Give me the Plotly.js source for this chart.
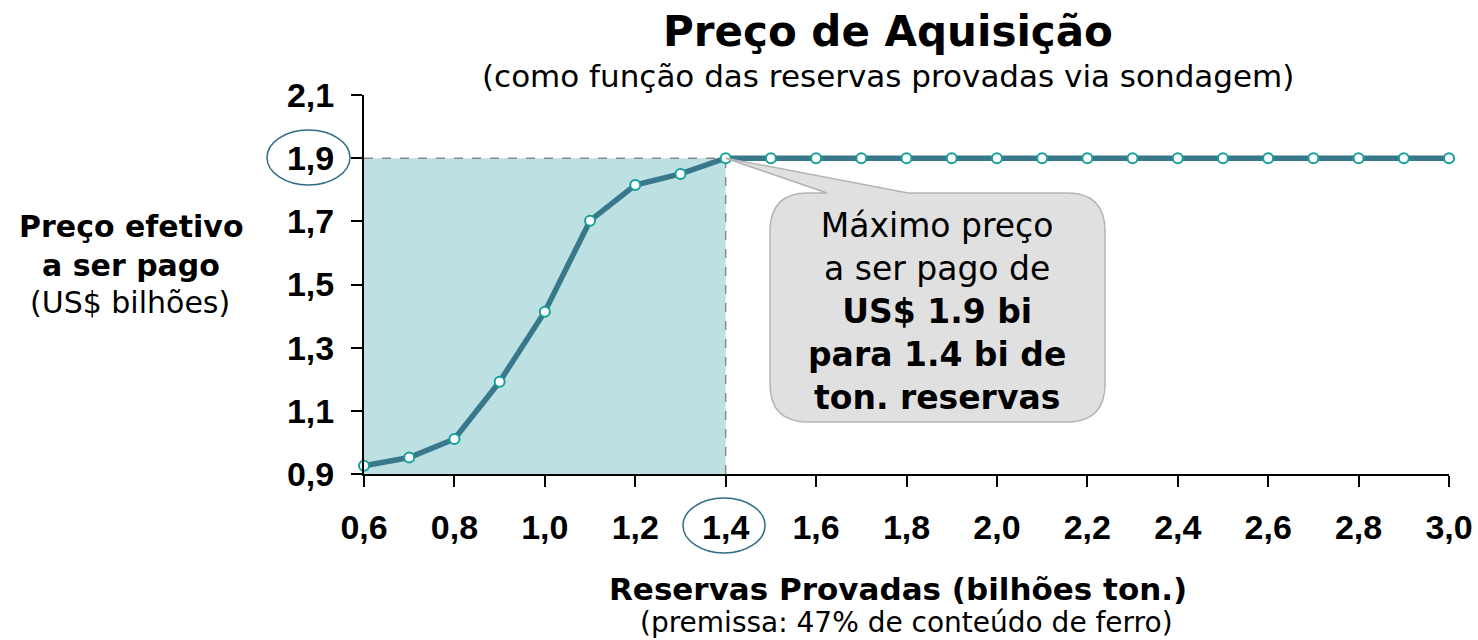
<!DOCTYPE html>
<html>
<head>
<meta charset="utf-8">
<script src="https://cdn.plot.ly/plotly-3.0.1.min.js"></script>
<style>
  body { margin: 0; background: #fff; }
  #chart { width: 1478px; height: 640px; }
</style>
</head>
<body>
<div id="chart"></div>
<script>
// reservas provadas (bilhoes ton.) and preco efetivo (US$ bilhoes)
var reservas = [0.6, 0.7, 0.8, 0.9, 1.0, 1.1, 1.2, 1.3, 1.4, 1.5, 1.6, 1.7, 1.8, 1.9, 2.0,
                2.1, 2.2, 2.3, 2.4, 2.5, 2.6, 2.7, 2.8, 2.9, 3.0];
var preco = [0.926, 0.952, 1.011, 1.192, 1.414, 1.702, 1.815, 1.85, 1.9, 1.9, 1.9, 1.9, 1.9, 1.9, 1.9,
             1.9, 1.9, 1.9, 1.9, 1.9, 1.9, 1.9, 1.9, 1.9, 1.9];

var xTicks = [0.6, 0.8, 1.0, 1.2, 1.4, 1.6, 1.8, 2.0, 2.2, 2.4, 2.6, 2.8, 3.0];
var yTicks = [0.9, 1.1, 1.3, 1.5, 1.7, 1.9, 2.1];

// the chosen point
var reservaMax = 1.4;
var precoMax = 1.9;

var xRange = [0.6, 3.0];
var yRange = [0.9, 2.1];

// plot area in pixels
var W = 1478, H = 640;
var mL = 364, mR = 29, mT = 95, mB = 166;
var pw = W - mL - mR, ph = H - mT - mB;

// pixel -> paper helpers for the decorations
function px(x) { return (x - mL) / pw; }
function py(y) { return (H - mB - y) / ph; }

var font = "Verdana, 'DejaVu Sans', sans-serif";
var tickFont = "Arial, 'Liberation Sans', sans-serif";

var trace = {
  x: reservas,
  y: preco,
  type: "scatter",
  mode: "lines+markers",
  line: {color: "#38788a", width: 5.5},
  marker: {size: 10, color: "#ffffff", line: {color: "#16a09a", width: 2}},
  cliponaxis: false,
  hoverinfo: "skip"
};

// callout bubble built in pixels
function bubble(l, t, r, b, rad, p1, p2, tx, ty) {
  var d = "M" + px(l + rad) + "," + py(t) +
    " L" + px(p1) + "," + py(t) +
    " L" + tx + "," + ty +
    " L" + px(p2) + "," + py(t) +
    " L" + px(r - rad) + "," + py(t) +
    " Q" + px(r) + "," + py(t) + " " + px(r) + "," + py(t + rad) +
    " L" + px(r) + "," + py(b - rad) +
    " Q" + px(r) + "," + py(b) + " " + px(r - rad) + "," + py(b) +
    " L" + px(l + rad) + "," + py(b) +
    " Q" + px(l) + "," + py(b) + " " + px(l) + "," + py(b - rad) +
    " L" + px(l) + "," + py(t + rad) +
    " Q" + px(l) + "," + py(t) + " " + px(l + rad) + "," + py(t) + " Z";
  return d;
}

var tipX = (reservaMax - xRange[0]) / (xRange[1] - xRange[0]);
var tipY = (precoMax - yRange[0]) / (yRange[1] - yRange[0]);

var shapes = [
  {type: "rect", xref: "x", yref: "y", x0: xRange[0], x1: reservaMax, y0: yRange[0], y1: precoMax,
   fillcolor: "#bde0e3", line: {width: 0}, layer: "below"},
  {type: "line", xref: "x", yref: "y", x0: xRange[0], x1: reservaMax, y0: precoMax, y1: precoMax,
   line: {color: "#8a8a8a", width: 1.5, dash: "dash"}, layer: "below"},
  {type: "line", xref: "x", yref: "y", x0: reservaMax, x1: reservaMax, y0: yRange[0], y1: precoMax,
   line: {color: "#8a8a8a", width: 1.5, dash: "dash"}, layer: "below"},
  {type: "path", xref: "paper", yref: "paper",
   path: bubble(770, 193, 1105, 422, 38, 827, 908, tipX, tipY),
   fillcolor: "#e0e0e0", line: {color: "#b4b4b4", width: 1.5}, layer: "above"},
  // ellipses round the 1,9 and 1,4 tick labels
  {type: "circle", xref: "paper", yref: "paper",
   x0: px(267), x1: px(350), y0: py(185), y1: py(130),
   line: {color: "#2e6e85", width: 1.5}},
  {type: "circle", xref: "paper", yref: "paper",
   x0: px(683), x1: px(765), y0: py(553), y1: py(498),
   line: {color: "#2e6e85", width: 1.5}}
];

function note(text, x, y, size) {
  return {text: text, xref: "paper", yref: "paper", x: px(x), y: py(y), showarrow: false,
          align: "center", xanchor: "center", yanchor: "middle",
          font: {family: font, size: size, color: "#000"}};
}

var annotations = [
  note("<b>Preço de Aquisição</b>", 888, 32, 42),
  note("(como função das reservas provadas via sondagem)", 888, 76, 31),
  note("<b>Preço efetivo</b>", 131, 226, 30),
  note("<b>a ser pago</b>", 131, 265, 30),
  note("(US$ bilhões)", 130, 302, 30),
  note("<b>Reservas Provadas (bilhões ton.)</b>", 898, 589, 31),
  note("(premissa: 47% de conteúdo de ferro)", 906, 622, 28),
  note("Máximo preço<br>a ser pago de<br><b>US$ 1.9 bi</b><br><b>para 1.4 bi de</b><br><b>ton. reservas</b>",
       937, 311, 33)
];

var layout = {
  width: W,
  height: H,
  margin: {l: mL, r: mR, t: mT, b: mB},
  paper_bgcolor: "#ffffff",
  plot_bgcolor: "#ffffff",
  showlegend: false,
  separators: ",.",
  xaxis: {
    range: xRange, tickvals: xTicks, tickformat: ".1f",
    showgrid: false, zeroline: false, showline: true, linecolor: "#000", linewidth: 2,
    ticks: "outside", ticklen: 11, tickwidth: 2, tickcolor: "#000",
    ticklabelstandoff: 11,
    tickfont: {family: tickFont, size: 34, color: "#000", weight: "bold"}
  },
  yaxis: {
    range: yRange, tickvals: yTicks, tickformat: ".1f",
    showgrid: false, zeroline: false, showline: true, linecolor: "#000", linewidth: 2,
    ticks: "outside", ticklen: 11, tickwidth: 2, tickcolor: "#000",
    ticklabelstandoff: 10,
    tickfont: {family: tickFont, size: 34, color: "#000", weight: "bold"}
  },
  shapes: shapes,
  annotations: annotations
};

Plotly.newPlot("chart", [trace], layout, {staticPlot: true});
</script>
</body>
</html>
